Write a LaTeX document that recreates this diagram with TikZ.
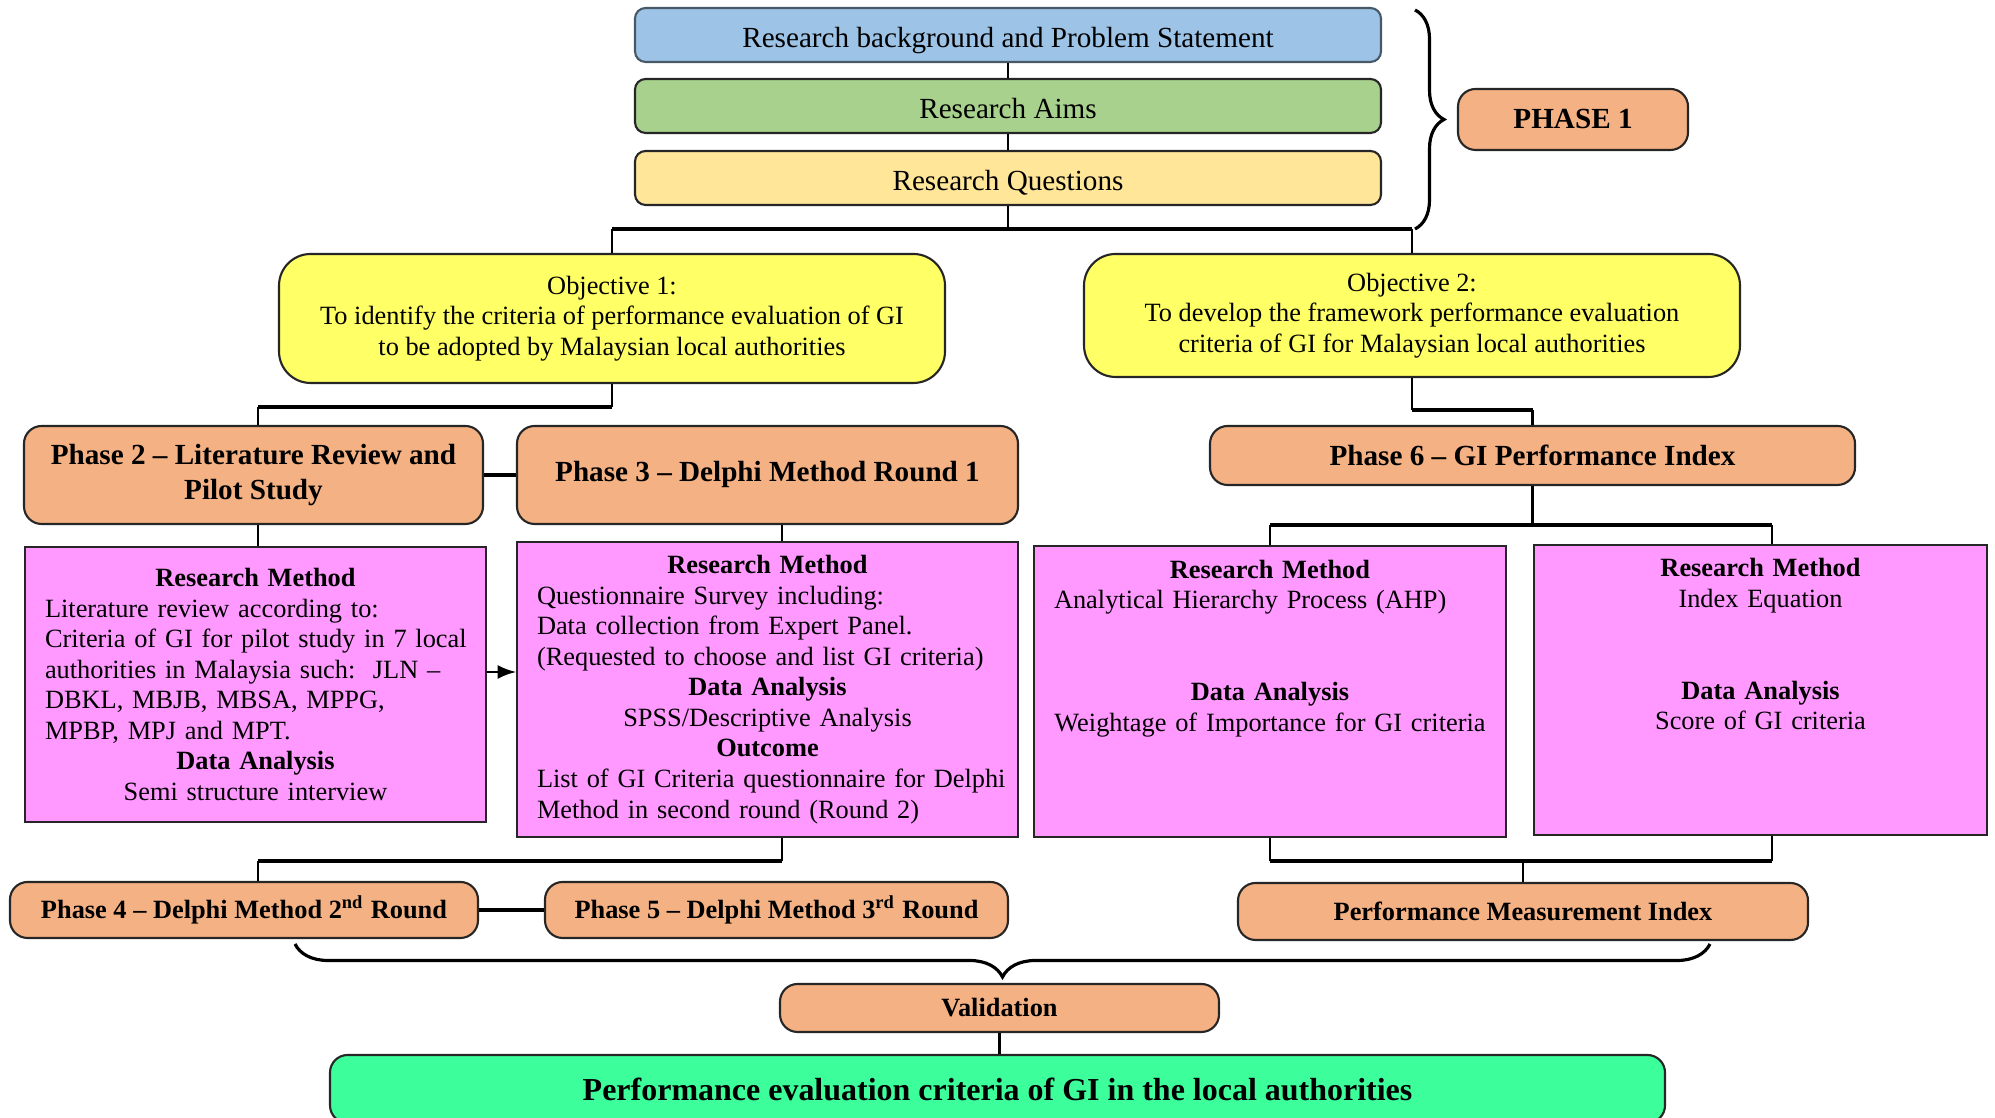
\documentclass[tikz,border=0pt]{standalone}
\usepackage{fontspec}
\setmainfont{Liberation Serif}
\usetikzlibrary{decorations.pathreplacing}
\definecolor{bgblue}{HTML}{9DC3E6}
\definecolor{aimgreen}{HTML}{A9D18E}
\definecolor{rqgold}{HTML}{FFE699}
\definecolor{objyellow}{HTML}{FFFF66}
\definecolor{phasepeach}{HTML}{F4B183}
\definecolor{methodpink}{HTML}{FF99FF}
\definecolor{finalgreen}{HTML}{3CFF9B}
\newcommand\boldline[1]{\centerline{\textbf{#1}}}
\newcommand\midline[1]{\centerline{#1}}
\tikzset{
    topbox/.style={draw=black!85, line width=0.6pt, rounded corners=3pt, minimum width=7.46cm, minimum height=0.54cm, inner sep=0pt, text height=7pt, text depth=0pt, font=\fontsize{8.3}{9.8}\selectfont},
    objbox/.style={draw=black!85, line width=0.6pt, fill=objyellow, rounded corners=9pt, align=center, inner sep=0pt, font=\fontsize{7.5}{8.7}\selectfont},
    phasebox/.style={draw=black!85, line width=0.6pt, fill=phasepeach, rounded corners=5pt, align=center, inner sep=0pt, font=\bfseries\fontsize{8.3}{9.8}\selectfont},
    lowphase/.style={phasebox, font=\bfseries\fontsize{7.5}{8.7}\selectfont},
    methodbox/.style={draw=black!85, line width=0.6pt, fill=methodpink, inner xsep=0.2cm, inner ysep=0pt, font=\fontsize{7.5}{8.7}\selectfont},
    link/.style={line width=0.8pt},
    bus/.style={line width=1.3pt},
    curly/.style={decorate, line width=0.9pt}
}
\begin{document}
\begin{tikzpicture}
                \useasboundingbox (0,0) rectangle (19.95,11.18);

                % Уровни шин и колонки
                \coordinate (busA) at (0,8.89);
                \coordinate (busB) at (0,7.11);
                \coordinate (busC) at (0,7.08);
                \coordinate (busD) at (0,5.93);
                \coordinate (busE) at (0,2.57);
                \coordinate (yArr) at (0,4.46);
                \coordinate (xA) at (2.58,0);
                \coordinate (xB) at (7.82,0);
                \coordinate (xD) at (17.72,0);

                % Верхние блоки
                \node[topbox, fill=bgblue, draw=bgblue!45!black] (bg) at (10.08,10.83) {Research background and Problem Statement};
                \node[topbox, fill=aimgreen] (aims) at (10.08,10.12) {Research Aims};
                \node[topbox, fill=rqgold] (rq) at (10.08,9.40) {Research Questions};
                \node[phasebox, minimum width=2.30cm, minimum height=0.61cm] (ph1) at (15.73,9.985) {PHASE 1};

                % Цели
                \node[objbox, minimum width=6.66cm, minimum height=1.29cm] (o1) at (6.12,7.995)
                    {Objective 1:\\ To identify the criteria of performance evaluation of GI\\ to be adopted by Malaysian local authorities};
                \node[objbox, minimum width=6.56cm, minimum height=1.23cm] (o2) at (14.12,8.025)
                    {Objective 2:\\ To develop the framework performance evaluation\\ criteria of GI for Malaysian local authorities};

                % Фазы
                \node[phasebox, minimum width=4.59cm, minimum height=0.98cm] (p2) at (2.535,6.43) {Phase 2 -- Literature Review and\\ Pilot Study};
                \node[phasebox, minimum width=5.01cm, minimum height=0.98cm] (p3) at (7.675,6.43) {Phase 3 -- Delphi Method Round 1};
                \node[phasebox, minimum width=6.45cm, minimum height=0.59cm] (p6) at (15.325,6.625) {Phase 6 -- GI Performance Index};

                % Методы
                \node[methodbox, text width=4.21cm, minimum height=2.75cm] (m1) at (2.555,4.335) {
                    \boldline{Research Method}
                    \leftline{Literature review according to:}
                    \leftline{Criteria of GI for pilot study in 7 local}
                    \leftline{authorities in Malaysia such:\ \ JLN --}
                    \leftline{DBKL, MBJB, MBSA, MPPG,}
                    \leftline{MPBP, MPJ and MPT.}
                    \boldline{Data Analysis}
                    \midline{Semi structure interview}};
                \node[methodbox, text width=4.61cm, minimum height=2.95cm] (m2) at (7.675,4.285) {
                    \boldline{Research Method}
                    \leftline{Questionnaire Survey including:}
                    \leftline{Data collection from Expert Panel.}
                    \leftline{(Requested to choose and list GI criteria)}
                    \boldline{Data Analysis}
                    \midline{SPSS/Descriptive Analysis}
                    \boldline{Outcome}
                    \leftline{List of GI Criteria questionnaire for Delphi}
                    \leftline{Method in second round (Round 2)}};
                \node[methodbox, text width=4.32cm, minimum height=2.91cm] (m3) at (12.70,4.265) {
                    \boldline{Research Method}
                    \leftline{Analytical Hierarchy Process (AHP)}
                    \leftline{}
                    \leftline{}
                    \boldline{Data Analysis}
                    \midline{Weightage of Importance for GI criteria}
                    \leftline{}
                    \leftline{}
                    \leftline{}};
                \node[methodbox, text width=4.13cm, minimum height=2.90cm] (m4) at (17.605,4.28) {
                    \boldline{Research Method}
                    \midline{Index Equation}
                    \leftline{}
                    \leftline{}
                    \boldline{Data Analysis}
                    \midline{Score of GI criteria}
                    \leftline{}
                    \leftline{}
                    \leftline{}};

                % Нижние фазы
                \node[lowphase, minimum width=4.68cm, minimum height=0.56cm] (p4) at (2.44,2.08) {Phase 4 -- Delphi Method 2\textsuperscript{nd} Round};
                \node[lowphase, minimum width=4.63cm, minimum height=0.56cm] (p5) at (7.765,2.08) {Phase 5 -- Delphi Method 3\textsuperscript{rd} Round};
                \node[lowphase, minimum width=5.70cm, minimum height=0.57cm] (pmi) at (15.23,2.065) {Performance Measurement Index};
                \node[lowphase, minimum width=4.39cm, minimum height=0.48cm] (val) at (9.995,1.10) {Validation};
                \node[phasebox, fill=finalgreen, minimum width=13.35cm, minimum height=0.68cm, font=\bfseries\fontsize{9.1}{10.5}\selectfont] (fin) at (9.975,0.29)
                    {Performance evaluation criteria of GI in the local authorities};

                % Связи
                \draw[link] (bg) -- (aims);
                \draw[link] (aims) -- (rq);
                \draw[link] (rq) -- (rq |- busA);
                \draw[bus] (o1 |- busA) -- (o2 |- busA);
                \draw[link] (o1 |- busA) -- (o1);
                \draw[link] (o2 |- busA) -- (o2);

                \draw[link] (o1) -- (o1 |- busB);
                \draw[bus] (o1 |- busB) -- (xA |- busB);
                \draw[link] (xA |- busB) -- (xA |- p2.north);
                \draw[bus] (p2) -- (p3);

                \draw[link] (o2) -- (o2 |- busC);
                \draw[bus] (o2 |- busC) -- (p6 |- busC);
                \draw[link] (p6 |- busC) -- (p6);

                \draw[link] (xA |- p2.south) -- (xA |- m1.north);
                \draw[link] (xB |- p3.south) -- (xB |- m2.north);
                \draw[link, -latex] (m1.east |- yArr) -- (m2.west |- yArr);

                \draw[link] (p6) -- (p6 |- busD);
                \draw[bus] (m3 |- busD) -- (xD |- busD);
                \draw[link] (m3 |- busD) -- (m3);
                \draw[link] (xD |- busD) -- (xD |- m4.north);

                \draw[link] (xB |- m2.south) -- (xB |- busE);
                \draw[bus] (xB |- busE) -- (xA |- busE);
                \draw[link] (xA |- busE) -- (xA |- p4.north);
                \draw[bus] (p4) -- (p5);

                \draw[link] (m3) -- (m3 |- busE);
                \draw[link] (xD |- m4.south) -- (xD |- busE);
                \draw[bus] (m3 |- busE) -- (xD |- busE);
                \draw[link] (pmi |- busE) -- (pmi);

                \draw[link] (val) -- (val |- fin.north);

                % Скобки
                \draw[curly, decoration={brace, amplitude=0.29cm}] (14.15,11.08) -- (14.15,8.89);
                \draw[curly, decoration={brace, amplitude=0.33cm}] (17.10,1.74) -- (2.95,1.74);
\end{tikzpicture}
\end{document}
